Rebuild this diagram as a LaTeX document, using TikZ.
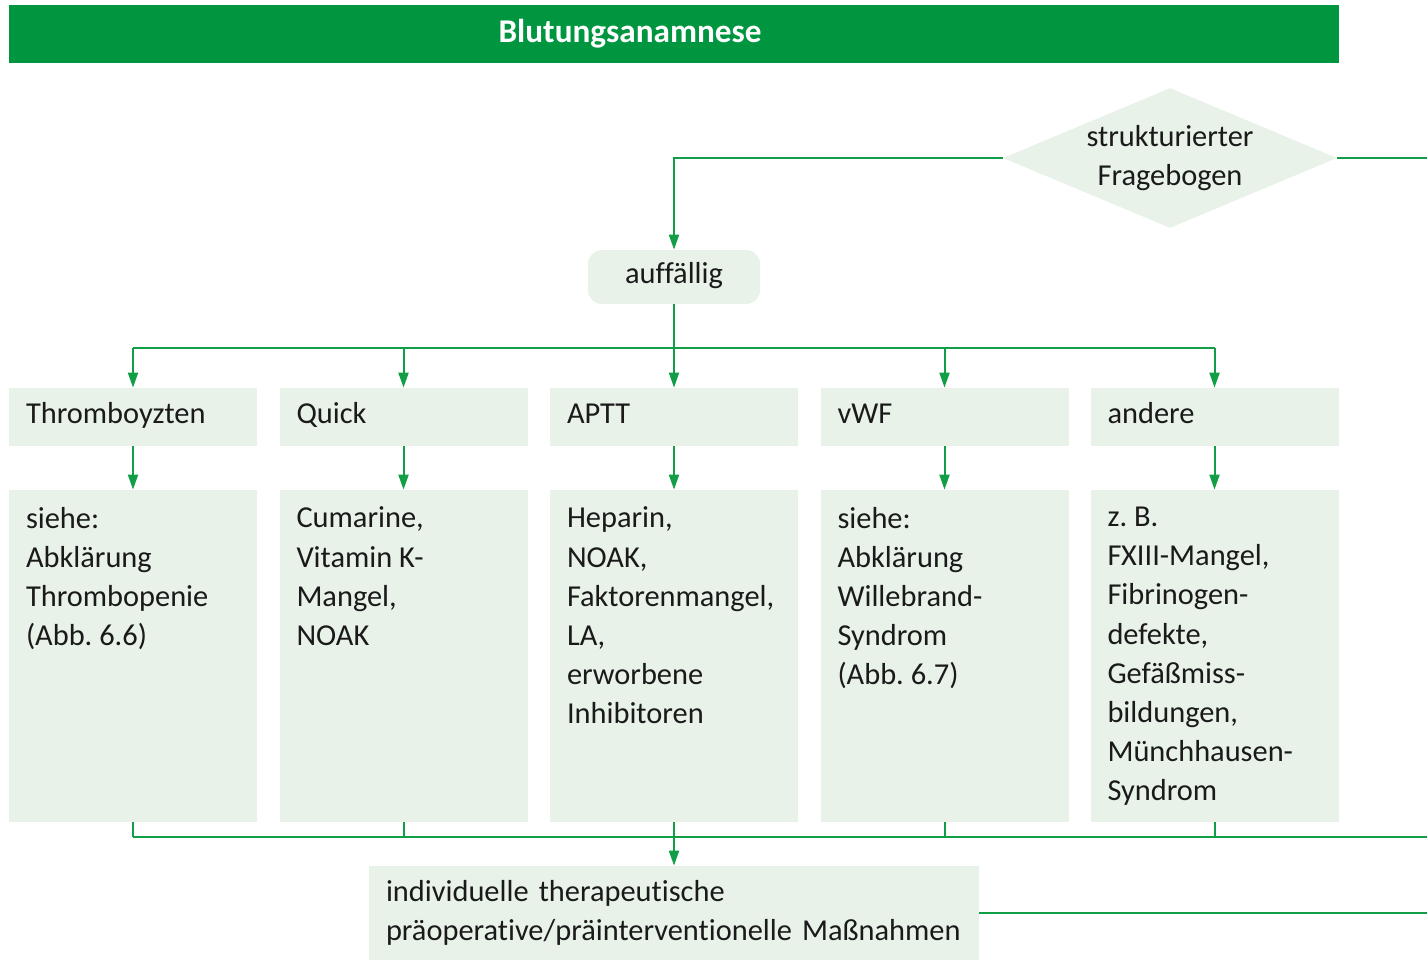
\documentclass[tikz,border=0pt]{standalone}
\usepackage{fontspec}
\setmainfont{Carlito}[Ligatures=NoCommon]
\usepackage{tikz}
\usetikzlibrary{shapes.geometric}
\usetikzlibrary{arrows.meta}

\definecolor{bargreen}{RGB}{0,150,64}
\definecolor{linegreen}{RGB}{18,158,70}
\definecolor{boxgreen}{RGB}{232,242,233}
\definecolor{inkgray}{RGB}{26,26,26}
\newcommand\boxfont{\fontsize{15.2}{19.6}\selectfont}
\frenchspacing

\begin{document}
\begin{tikzpicture}[x=0.5pt,y=-0.5pt,
    font=\boxfont, text=inkgray,
    barn/.style={fill=bargreen,minimum width=665pt,minimum height=29pt,inner sep=0pt},
    titlen/.style={text=white,font=\fontsize{16.6}{20}\selectfont\bfseries},
    questn/.style={diamond,fill=boxgreen,aspect=2.4,inner sep=0pt,
      minimum width=167pt,minimum height=70pt,align=center},
    auffn/.style={fill=boxgreen,rounded corners=7pt,minimum width=86pt,minimum height=27pt,
      text height=10.5pt,text depth=4pt},
    headn/.style={fill=boxgreen,minimum height=29pt,inner xsep=8.5pt,inner ysep=0pt,
      text width=107pt,align=left,text height=10.5pt,text depth=4.5pt},
    detailn/.style={fill=boxgreen,minimum width=124pt,minimum height=166pt,inner sep=0pt},
    detailt/.style={anchor=north west,inner sep=0pt,align=left},
    resn/.style={fill=boxgreen,minimum height=47pt,inner xsep=8.5pt,inner ysep=0pt,
      text width=288pt,align=left},
    flow/.style={draw=linegreen,line width=1pt},
    arr/.style={flow,-{Triangle[length=7.5pt,width=5pt]}}]
  \useasboundingbox (0,0) rectangle (1427,960);

  % title
  \node[barn] (bar) at (674,34) {};
  \node[titlen] (title) at (630,34) {Blutungsanamnese};

  % questionnaire and result
  \node[questn] (quest) at (1170,158) {strukturierter\\Fragebogen};
  \node[auffn] (auff) at (674,277) {auff\"allig};
  \coordinate (qout) at (1427,158);
  \draw[arr] (quest.west) -| (auff.north);
  \draw[flow] (quest.east) -- (qout);

  % parameters
  \node[headn] (h1) at (133,417) {Thromboyzten};
  \node[headn] (h2) at (403.5,417) {Quick};
  \node[headn] (h3) at (674,417) {APTT};
  \node[headn] (h4) at (944.5,417) {vWF};
  \node[headn] (h5) at (1214.5,417) {andere};

  % findings
  \node[detailn] (d1) at (133,656) {};
  \node[detailn] (d2) at (403.5,656) {};
  \node[detailn] (d3) at (674,656) {};
  \node[detailn] (d4) at (944.5,656) {};
  \node[detailn] (d5) at (1214.5,656) {};
  \node[detailt] (t1) at ([xshift=8.5pt,yshift=-8.5pt]d1.north west)
    {siehe:\\Abkl\"arung\\Thrombopenie\\(Abb. 6.6)};
  \node[detailt] (t2) at ([xshift=8.5pt,yshift=-8.5pt]d2.north west)
    {Cumarine,\\Vitamin K-\\Mangel,\\NOAK};
  \node[detailt] (t3) at ([xshift=8.5pt,yshift=-8.5pt]d3.north west)
    {Heparin,\\NOAK,\\Faktorenmangel,\\LA,\\erworbene\\Inhibitoren};
  \node[detailt] (t4) at ([xshift=8.5pt,yshift=-8.5pt]d4.north west)
    {siehe:\\Abkl\"arung\\Willebrand-\\Syndrom\\(Abb. 6.7)};
  \node[detailt] (t5) at ([xshift=8.5pt,yshift=-8.5pt]d5.north west)
    {z. B.\\FXIII-Mangel,\\Fibrinogen-\\defekte,\\Gef\"a\ss miss-\\bildungen,\\M\"unchhausen-\\Syndrom};

  \node[resn] (res) at (674,913)
    {individuelle therapeutische\\pr\"aoperative/pr\"ainterventionelle Ma\ss nahmen};

  % branching
  \coordinate (split) at (674,348);
  \coordinate (join) at (674,837);
  \coordinate (jout) at (1427,837);
  \coordinate (rout) at (1427,913);
  \draw[arr] (auff.south) -- (h3.north);
  \draw[flow] (h1.north|-split) -- (h5.north|-split);
  \foreach \i in {1,2,4,5}
    \draw[arr] (h\i.north|-split) -- (h\i.north);
  \foreach \i in {1,...,5}
    \draw[arr] (h\i.south) -- (d\i.north);
  \foreach \i in {1,2,4,5}
    \draw[flow] (d\i.south) -- (d\i.south|-join);
  \draw[flow] (d1.south|-join) -- (jout);
  \draw[arr] (d3.south) -- (res.north);
  \draw[flow] (res.east) -- (rout);
\end{tikzpicture}
\end{document}
